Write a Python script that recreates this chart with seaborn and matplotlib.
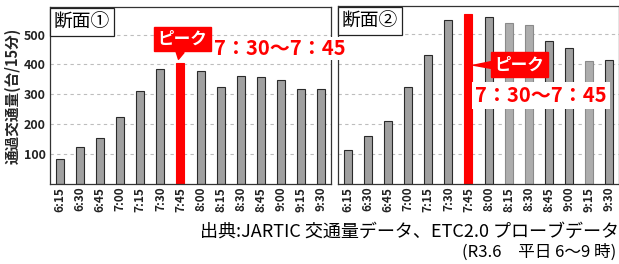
import numpy as np
import matplotlib
matplotlib.use("Agg")
import matplotlib.pyplot as plt
import seaborn as sns

# --- dados ---
times = ["6:15", "6:30", "6:45", "7:00", "7:15", "7:30", "7:45",
         "8:00", "8:15", "8:30", "8:45", "9:00", "9:15", "9:30"]
vol_sec1 = [83, 125, 154, 225, 310, 386, 405, 379, 325, 360, 357, 349, 319, 317]
vol_sec2 = [113, 158, 211, 324, 430, 546, 567, 554, 534, 528, 477, 452, 409, 411]
peak_label = "7:45"
yticks = [100, 200, 300, 400, 500]
panel_titles = ["断面①", "断面②"]
ylabel = "通過交通量(台/15分)"
peak_text = "ピーク"
peak_range = "7：30～7：45"
source_line1 = "出典:JARTIC 交通量データ、ETC2.0 プローブデータ"
source_line2 = "(R3.6　平日 6～9 時)"

sns.set_style("white")
plt.rcParams['font.family'] = ['Noto Sans CJK JP', 'DejaVu Sans']

GRAY = "#a0a0a0"
LIGHT = "#adadad"
RED = "#ff0000"

fig = plt.figure(figsize=(6.19, 2.64), dpi=100)
W, H = 619, 264


def px_axes(x0, y0, x1, y1):
    return fig.add_axes([x0 / W, 1 - y1 / H, (x1 - x0) / W, (y1 - y0) / H])


ax1 = px_axes(50, 7, 331, 184)
ax2 = px_axes(338, 6, 619, 184)

light_bars = {1: ["8:15", "8:30", "9:15"]}

for i, (ax, vals) in enumerate([(ax1, vol_sec1), (ax2, vol_sec2)]):
    pal = {t: (RED if t == peak_label else GRAY) for t in times}
    for t in light_bars.get(i, []):
        pal[t] = LIGHT
    sns.barplot(x=times, y=vals, hue=times, palette=pal, legend=False,
                width=0.4, ax=ax, zorder=2, saturation=1)
    for t, p in zip(times, ax.patches):
        if t == peak_label:
            p.set_edgecolor(RED)
        elif t in light_bars.get(i, []):
            p.set_edgecolor("#8a8a8a")
        else:
            p.set_edgecolor("#2a2a2a")
        p.set_linewidth(0.8)
    ax.set_xlim(-0.5, len(times) - 0.5)
    ax.set_ylim(0, 592)
    ax.set_yticks(yticks)
    ax.yaxis.grid(True, linestyle=(0, (3, 3)), color="#bdbdbd", linewidth=0.8, zorder=0)
    ax.xaxis.grid(False)
    ax.set_axisbelow(True)
    ax.tick_params(axis="x", labelrotation=90, labelsize=8.5, length=0, pad=2)
    ax.tick_params(axis="y", labelsize=9, length=0, pad=3)
    for lab in ax.get_xticklabels():
        lab.set_fontweight("bold")
        lab.set_color("#222222")
    for lab in ax.get_yticklabels():
        lab.set_fontweight("bold")
        lab.set_color("#222222")
    for s in ax.spines.values():
        s.set_visible(True)
        s.set_color("#333333")
        s.set_linewidth(0.9)
    ax.set_xlabel("")
    ax.set_ylabel("")
    ax.text(0.014, 0.975, panel_titles[i], transform=ax.transAxes, ha="left", va="top",
            fontsize=13.5, color="black", zorder=5,
            bbox=dict(boxstyle="square,pad=0.2", fc="white", ec="#222222", lw=0.9))

ax2.tick_params(axis="y", labelleft=False)
ax1.set_ylabel(ylabel, fontsize=10.5, fontweight="bold", labelpad=2)

pk = times.index(peak_label)

# callout - panel 1
ax1.annotate(peak_text, xy=(pk - 0.1, vol_sec1[pk] + 12), xytext=(pk + 0.1, 485),
             ha="center", va="center", fontsize=12, fontweight="bold", color="white",
             bbox=dict(boxstyle="square,pad=0.2", fc=RED, ec=RED),
             arrowprops=dict(arrowstyle="wedge,tail_width=0.5,shrink_factor=0.5",
                             fc=RED, ec=RED, shrinkA=0, shrinkB=0),
             zorder=6)
ax1.text(10.95, 452, peak_range, ha="center", va="center", fontsize=14.5,
         fontweight="bold", color=RED, zorder=7, clip_on=False,
         bbox=dict(boxstyle="square,pad=0.05", fc="white", ec="none"))
ax1.set_zorder(3)

# callout - panel 2
ax2.annotate(peak_text, xy=(pk + 0.25, 395), xytext=(8.55, 397),
             ha="center", va="center", fontsize=12, fontweight="bold", color="white",
             bbox=dict(boxstyle="square,pad=0.2", fc=RED, ec=RED),
             arrowprops=dict(arrowstyle="wedge,tail_width=0.4,shrink_factor=0.5",
                             fc=RED, ec=RED, shrinkA=0, shrinkB=0),
             zorder=6)
ax2.text(9.6, 293, peak_range, ha="center", va="center", fontsize=14.5,
         fontweight="bold", color=RED, zorder=7,
         bbox=dict(boxstyle="square,pad=0.15", fc="white", ec="none"))

fig.text(1.0, 1 - 232 / H, source_line1, ha="right", va="center", fontsize=13, color="black")
fig.text(0.995, 1 - 252 / H, source_line2, ha="right", va="center", fontsize=12, color="black")

fig.savefig("out.png", dpi=100, facecolor="white")
